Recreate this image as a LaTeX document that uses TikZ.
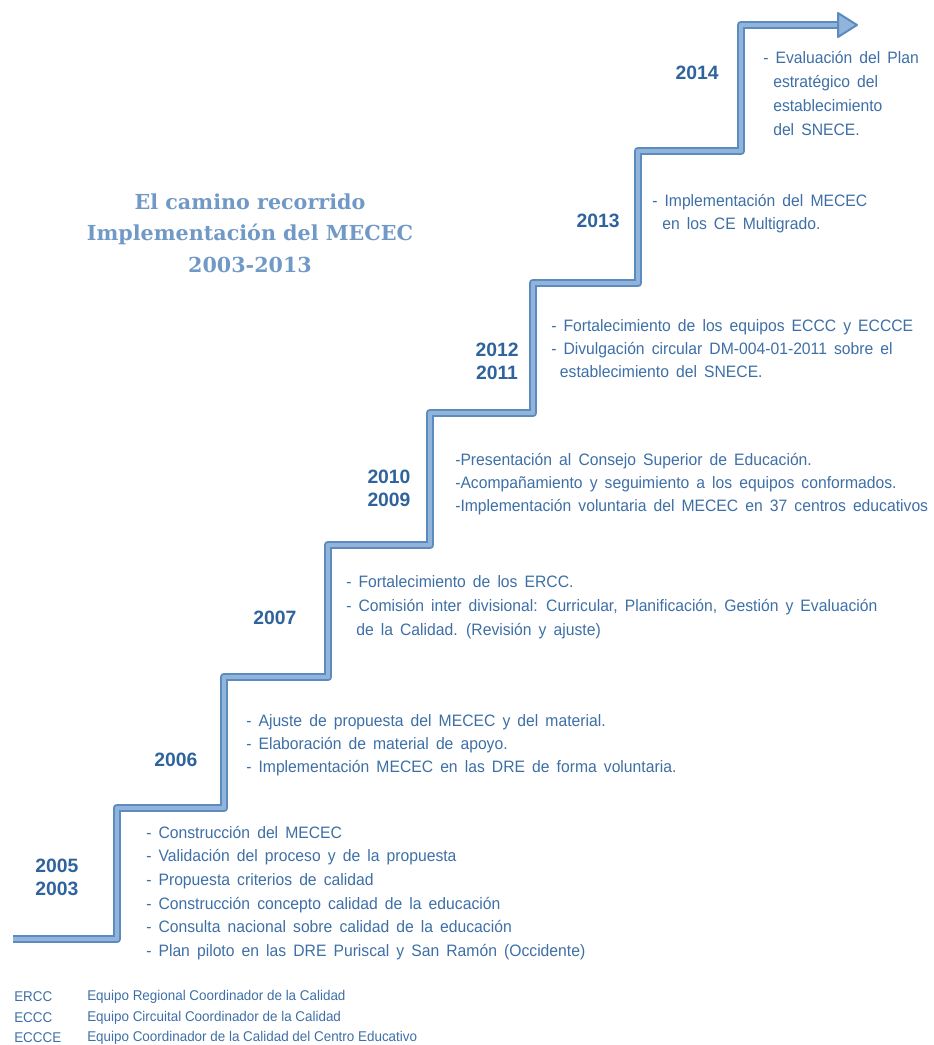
\documentclass[tikz,border=0pt]{standalone}
\usepackage{fontspec}
\setmainfont{Liberation Sans}
\newfontfamily\itemfont{Liberation Sans}[FakeStretch=0.95]
\newfontfamily\legfont{Liberation Sans}[FakeStretch=0.95]
\newfontfamily\titlefont{DejaVu Serif}
\newcommand\itemsize[1]{\itemfont\fontsize{12.4}{#1}\selectfont\spaceskip=5.3pt plus 1pt minus 1pt\relax}
\definecolor{txtblue}{HTML}{3D6FA6}
\definecolor{yearblue}{HTML}{2F639C}
\definecolor{titleblue}{HTML}{7199C6}
\definecolor{stairdark}{HTML}{5B8BBF}
\definecolor{stairlight}{HTML}{92B4DA}
\tikzset{
  stairout/.style={draw=stairdark, line width=6.6pt, line join=round},
  stairin/.style={draw=stairlight, line width=3.6pt, line join=round},
  itemtext/.style={anchor=west, align=left, inner sep=0pt, text=txtblue, font=\itemsize{17.8}},
  itemtight/.style={itemtext, font=\itemsize{17.3}},
  yeartext/.style={align=center, inner sep=0pt, text=yearblue, font=\fontsize{14.5}{17.3}\selectfont\bfseries},
  legtext/.style={anchor=west, align=left, inner sep=0pt, text=txtblue, font=\legfont\fontsize{10.6}{15.3}\selectfont},
}
\begin{document}
\begin{tikzpicture}[x=0.75pt,y=-0.75pt]
\useasboundingbox (0,0) rectangle (933,1045);
% staircase corners
\coordinate (s0) at (13,939);
\coordinate (s1) at (117,939);
\coordinate (s2) at (117,808);
\coordinate (s3) at (224,808);
\coordinate (s4) at (224,677);
\coordinate (s5) at (328,677);
\coordinate (s6) at (328,545);
\coordinate (s7) at (430,545);
\coordinate (s8) at (430,413);
\coordinate (s9) at (533,413);
\coordinate (s10) at (533,283);
\coordinate (s11) at (638,283);
\coordinate (s12) at (638,151);
\coordinate (s13) at (741,151);
\coordinate (s14) at (741,25);
\coordinate (s15) at (840,25);
\coordinate (ta) at (838,13);
\coordinate (tb) at (857,25);
\coordinate (tc) at (838,37);
\draw[stairout] (s0)--(s1)--(s2)--(s3)--(s4)--(s5)--(s6)--(s7)--(s8)--(s9)--(s10)--(s11)--(s12)--(s13)--(s14)--(s15);
\draw[stairin] (s0)--(s1)--(s2)--(s3)--(s4)--(s5)--(s6)--(s7)--(s8)--(s9)--(s10)--(s11)--(s12)--(s13)--(s14)--(s15);
\filldraw[draw=stairdark, fill=stairlight, line width=1.5pt, line join=round] (ta)--(tb)--(tc)--cycle;

% title
\node[align=center, text=titleblue, font=\titlefont\bfseries\fontsize{15.5}{23.6}\selectfont] (title) at (250,233)
  {El camino recorrido\\Implementación del MECEC\\2003-2013};

% years
\node[yeartext] (y2005) at (57,877) {2005\\2003};
\node[yeartext] (y2006) at (176,760) {2006};
\node[yeartext] (y2007) at (275,618) {2007};
\node[yeartext] (y2010) at (389,488) {2010\\2009};
\node[yeartext] (y2012) at (497,361) {2012\\2011};
\node[yeartext] (y2013) at (598,221) {2013};
\node[yeartext] (y2014) at (697,73) {2014};

% items
\node[itemtext] (b2003) at (146,893) {- Construcción del MECEC\\- Validación del proceso y de la propuesta\\- Propuesta criterios de calidad\\- Construcción concepto calidad de la educación\\- Consulta nacional sobre calidad de la educación\\- Plan piloto en las DRE Puriscal y San Ramón (Occidente)};
\node[itemtight] (b2006) at (246,745) {- Ajuste de propuesta del MECEC y del material.\\- Elaboración de material de apoyo.\\- Implementación MECEC en las DRE de forma voluntaria.};
\node[itemtext] (b2007) at (346,607) {- Fortalecimiento de los ERCC.\\- Comisión inter divisional: Curricular, Planificación, Gestión y Evaluación\\\hspace*{7.5pt}de la Calidad. (Revisión y ajuste)};
\node[itemtight] (b2010) at (455,484) {-Presentación al Consejo Superior de Educación.\\-Acompañamiento y seguimiento a los equipos conformados.\\-Implementación voluntaria del MECEC en 37 centros educativos};
\node[itemtight] (b2012) at (551,349) {- Fortalecimiento de los equipos ECCC y ECCCE\\- Divulgación circular DM-004-01-2011 sobre el\\\hspace*{6.5pt}establecimiento del SNECE.};
\node[itemtight] (b2013) at (652,213.5) {- Implementación del MECEC\\\hspace*{7.5pt}en los CE Multigrado.};
\node[itemtext] (b2014) at (763,93.5) {- Evaluación del Plan\\\hspace*{7.5pt}estratégico del\\\hspace*{7.5pt}establecimiento\\\hspace*{7.5pt}del SNECE.};

% legend
\node[legtext] (labbr) at (14,1017.5) {ERCC\\ECCC\\ECCCE};
\node[legtext] (ldesc) at (87,1017.5) {Equipo Regional Coordinador de la Calidad\\Equipo Circuital Coordinador de la Calidad\\Equipo Coordinador de la Calidad del Centro Educativo};
\end{tikzpicture}
\end{document}
